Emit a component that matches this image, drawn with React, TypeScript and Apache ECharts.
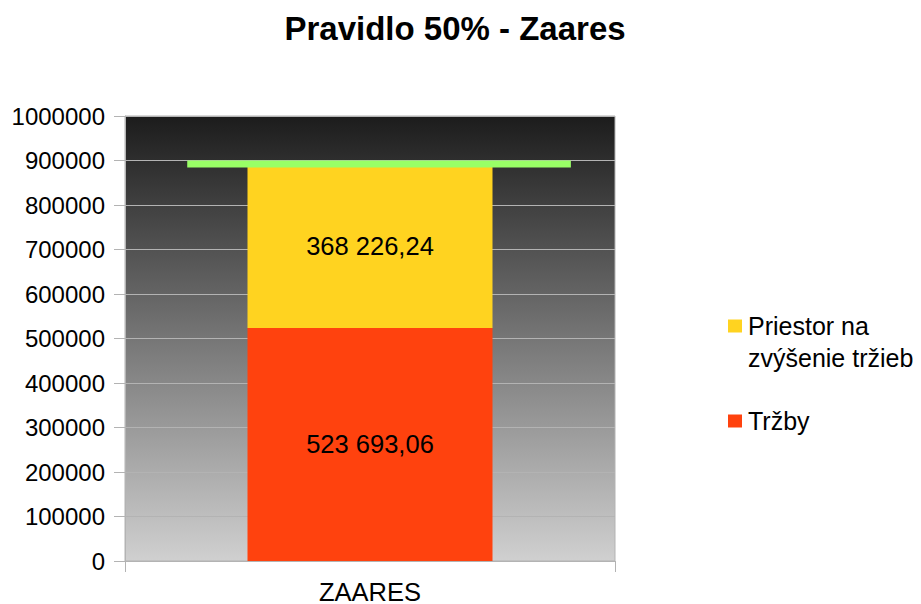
import React, { useEffect, useRef } from "react";
import * as echarts from "echarts";

const categories = ["ZAARES"];
const trzby = [523693.06];
const priestor = [368226.24];
const limit = [891919.3];
const yTicks = { min: 0, max: 1000000, interval: 100000 };
const seriesNames = ["Priestor na zvýšenie tržieb", "Tržby"];

const FONT = "'Liberation Sans', Arial, sans-serif";

function fmtSk(v: number): string {
  const [i, d] = v.toFixed(2).split(".");
  return i.replace(/\B(?=(\d{3})+(?!\d))/g, " ") + "," + d;
}

export default function App() {
  const ref = useRef<HTMLDivElement>(null);
  useEffect(() => {
    if (!ref.current) return;
    const chart = echarts.init(ref.current, null, { renderer: "svg" });
    chart.setOption({
      animation: false,
      backgroundColor: "#ffffff",
      textStyle: { fontFamily: FONT },
      title: {
        text: "Pravidlo 50% - Zaares",
        left: 450,
        top: 7,
        textAlign: "center",
        textStyle: { fontFamily: FONT, fontSize: 33, fontWeight: "bold", color: "#000" },
      },
      legend: {
        orient: "vertical",
        left: 723,
        top: 273,
        itemWidth: 14,
        itemHeight: 13,
        itemGap: 31,
        icon: "rect",
        data: [seriesNames[0], seriesNames[1]],
        formatter: (name: string) =>
          name === seriesNames[0] ? "\nPriestor na\nzvýšenie tržieb" : name,
        textStyle: {
          fontFamily: FONT,
          fontSize: 25,
          color: "#000",
          lineHeight: 32,
          padding: [0, 0, 0, 1],
        },
      },
      grid: {
        left: 125,
        top: 116,
        right: 306,
        bottom: 43,
        outerBoundsMode: "none",
        containLabel: false,
        show: true,
        borderColor: "#b3b3b3",
        borderWidth: 1,
        backgroundColor: new echarts.graphic.LinearGradient(0, 0, 0, 1, [
          { offset: 0, color: "#1c1c1c" },
          { offset: 1, color: "#d0d0d0" },
        ]),
      },
      xAxis: {
        type: "category",
        data: categories,
        axisLine: { lineStyle: { color: "#b3b3b3" } },
        axisTick: { show: true, length: 11, lineStyle: { color: "#b3b3b3" } },
        axisLabel: {
          fontFamily: FONT,
          fontSize: 25.5,
          lineHeight: 22,
          color: "#000",
          margin: 19.5,
        },
      },
      yAxis: {
        type: "value",
        min: yTicks.min,
        max: yTicks.max,
        interval: yTicks.interval,
        axisLine: { show: true, lineStyle: { color: "#b3b3b3" } },
        axisTick: { show: true, length: 11, lineStyle: { color: "#b3b3b3" } },
        splitLine: { show: true, lineStyle: { color: "#b3b3b3" } },
        axisLabel: {
          fontFamily: FONT,
          fontSize: 24,
          color: "#000",
          margin: 20,
          formatter: (v: number) => String(v),
        },
      },
      series: [
        {
          name: seriesNames[1],
          type: "bar",
          stack: "total",
          barWidth: "50%",
          data: trzby,
          itemStyle: { color: "#ff420e" },
          label: {
            show: true,
            position: "inside",
            formatter: (p: any) => fmtSk(p.value),
            fontFamily: FONT,
            fontSize: 25.5,
            color: "#000",
          },
        },
        {
          name: seriesNames[0],
          type: "bar",
          stack: "total",
          barWidth: "50%",
          data: priestor,
          itemStyle: { color: "#ffd320" },
          label: {
            show: true,
            position: "inside",
            formatter: (p: any) => fmtSk(p.value),
            fontFamily: FONT,
            fontSize: 25.5,
            color: "#000",
          },
        },
        {
          name: "Limit",
          type: "custom",
          z: 5,
          data: limit.map((v, i) => [i, v]),
          renderItem: (params: any, api: any) => {
            const pt = api.coord([api.value(0), api.value(1)]);
            const band = api.size([1, 0])[0];
            const x0 = pt[0] - band * 0.373;
            const x1 = pt[0] + band * 0.41;
            return {
              type: "rect",
              shape: { x: x0, y: pt[1] - 3.5, width: x1 - x0, height: 7 },
              style: { fill: "#99ff66" },
            };
          },
        },
      ],
    });
    return () => chart.dispose();
  }, []);
  return (
    <div
      ref={ref}
      style={{ position: "fixed", left: 0, top: 0, width: 921, height: 604 }}
    />
  );
}
